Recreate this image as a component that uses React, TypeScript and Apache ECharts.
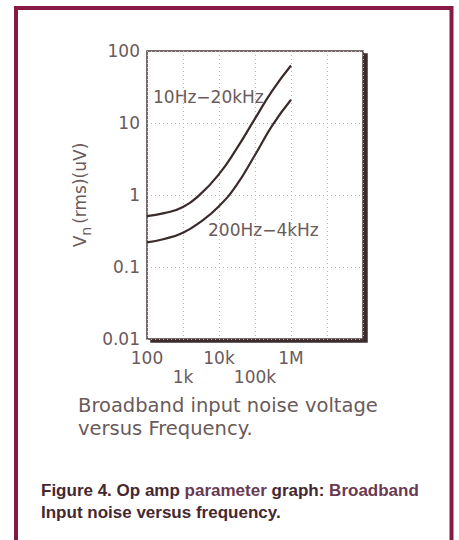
import React, { useEffect, useRef } from "react";
import * as echarts from "echarts";

const freqs = [100, 300, 1000, 3000, 10000, 30000, 100000, 300000, 1000000];
const wideband = [0.51, 0.56, 0.68, 1.02, 1.95, 4.3, 11.5, 28, 63];
const narrowband = [0.22, 0.245, 0.3, 0.42, 0.7, 1.35, 3.6, 9.2, 21];

const xTickLabels: Record<number, string> = { 2: "100", 3: "\n1k", 4: "10k", 5: "\n100k", 6: "1M", 7: "", 8: "" };
const yTickLabels: Record<number, string> = { 2: "100", 1: "10", 0: "1", [-1]: "0.1", [-2]: "0.01" };

const seriesNames = ["10Hz\u221220kHz", "200Hz\u22124kHz"];
const captionLines = ["Broadband input noise voltage", "versus Frequency."];

const TXT = "#6a5a5a";
const LINE = "#3a2a2a";
const FONT = "'DejaVu Sans', sans-serif";
const BOLD = "bold 17px 'Liberation Sans', sans-serif";

export default function App() {
  const ref = useRef<HTMLDivElement>(null);
  useEffect(() => {
    if (!ref.current) return;
    const chart = echarts.init(ref.current, null, { renderer: "svg" });
    const mk = (vals: number[]) => freqs.map((f, i) => [f, vals[i]]);
    chart.setOption({
      animation: false,
      backgroundColor: "#ffffff",
      grid: {
        left: 147,
        top: 51,
        width: 216,
        height: 288,
        show: true,
        backgroundColor: "#ffffff",
        borderColor: "#4a3a3a",
        borderWidth: 1.5,
        shadowColor: "#3a2a2a",
        shadowOffsetX: 4,
        shadowOffsetY: 3,
        shadowBlur: 0,
      },
      xAxis: {
        type: "log",
        logBase: 10,
        min: 100,
        max: 100000000,
        axisLine: { show: false },
        axisTick: { show: false },
        axisLabel: {
          margin: 9,
          color: TXT,
          fontFamily: FONT,
          fontSize: 17,
          lineHeight: 19,
          verticalAlign: "top",
          formatter: (v: number) => xTickLabels[Math.round(Math.log10(v))] ?? "",
        },
        splitLine: { show: true, lineStyle: { color: "#bdb4b4", type: [1, 3], width: 1 } },
      },
      yAxis: {
        type: "log",
        logBase: 10,
        min: 0.01,
        max: 100,
        axisLine: { show: false },
        axisTick: { show: false },
        axisLabel: {
          margin: 7,
          color: TXT,
          fontFamily: FONT,
          fontSize: 17,
          formatter: (v: number) => yTickLabels[Math.round(Math.log10(v))] ?? "",
        },
        splitLine: { show: true, lineStyle: { color: "#bdb4b4", type: [1, 3], width: 1 } },
        name: "{v|V}{s|n}{r|(rms)(uV)}",
        nameLocation: "middle",
        nameRotate: 90,
        nameGap: 56,
        nameTextStyle: {
          color: TXT,
          fontFamily: FONT,
          rich: {
            v: { fontSize: 17, color: TXT, fontFamily: FONT, verticalAlign: "top", lineHeight: 20 },
            s: { fontSize: 14, color: TXT, fontFamily: FONT, verticalAlign: "top", lineHeight: 16, padding: [8, 3, 0, 0] },
            r: { fontSize: 17, color: TXT, fontFamily: FONT, verticalAlign: "top", lineHeight: 20 },
          },
        },
      },
      series: [
        {
          name: seriesNames[0],
          type: "line",
          data: mk(wideband),
          smooth: 0.5,
          showSymbol: false,
          lineStyle: { color: LINE, width: 2.2 },
        },
        {
          name: seriesNames[1],
          type: "line",
          data: mk(narrowband),
          smooth: 0.5,
          showSymbol: false,
          lineStyle: { color: LINE, width: 2.2 },
        },
      ],
      graphic: [
        {
          type: "rect",
          shape: { x: 16, y: 8, width: 435.5, height: 560 },
          style: { fill: "transparent", stroke: "#861a44", lineWidth: 4 },
          silent: true,
        },
        {
          type: "text",
          x: 153,
          y: 97,
          style: { text: seriesNames[0], fill: TXT, font: `17px ${FONT}`, textVerticalAlign: "middle" },
        },
        {
          type: "text",
          x: 208,
          y: 230,
          style: { text: seriesNames[1], fill: TXT, font: `17px ${FONT}`, textVerticalAlign: "middle" },
        },
        {
          type: "text",
          x: 78,
          y: 405,
          style: { text: captionLines[0], fill: TXT, font: `19.5px ${FONT}`, textVerticalAlign: "middle" },
        },
        {
          type: "text",
          x: 78,
          y: 428,
          style: { text: captionLines[1], fill: TXT, font: `19.5px ${FONT}`, textVerticalAlign: "middle" },
        },
        {
          type: "text",
          x: 41,
          y: 490,
          style: {
            text: "{a|Figure 4. Op amp }{b|parameter}{a| graph: }{b|Broadband}",
            textVerticalAlign: "middle",
            rich: {
              a: { fill: "#45282f", font: BOLD },
              b: { fill: "#6a3a52", font: BOLD },
            },
          },
        },
        {
          type: "text",
          x: 41,
          y: 512,
          style: {
            text: "Input noise versus frequency.",
            fill: "#45282f",
            font: BOLD,
            textVerticalAlign: "middle",
          },
        },
      ],
    });
    return () => chart.dispose();
  }, []);
  return (
    <div
      ref={ref}
      style={{ position: "fixed", left: 0, top: 0, width: 459, height: 540, background: "#fff" }}
    />
  );
}
